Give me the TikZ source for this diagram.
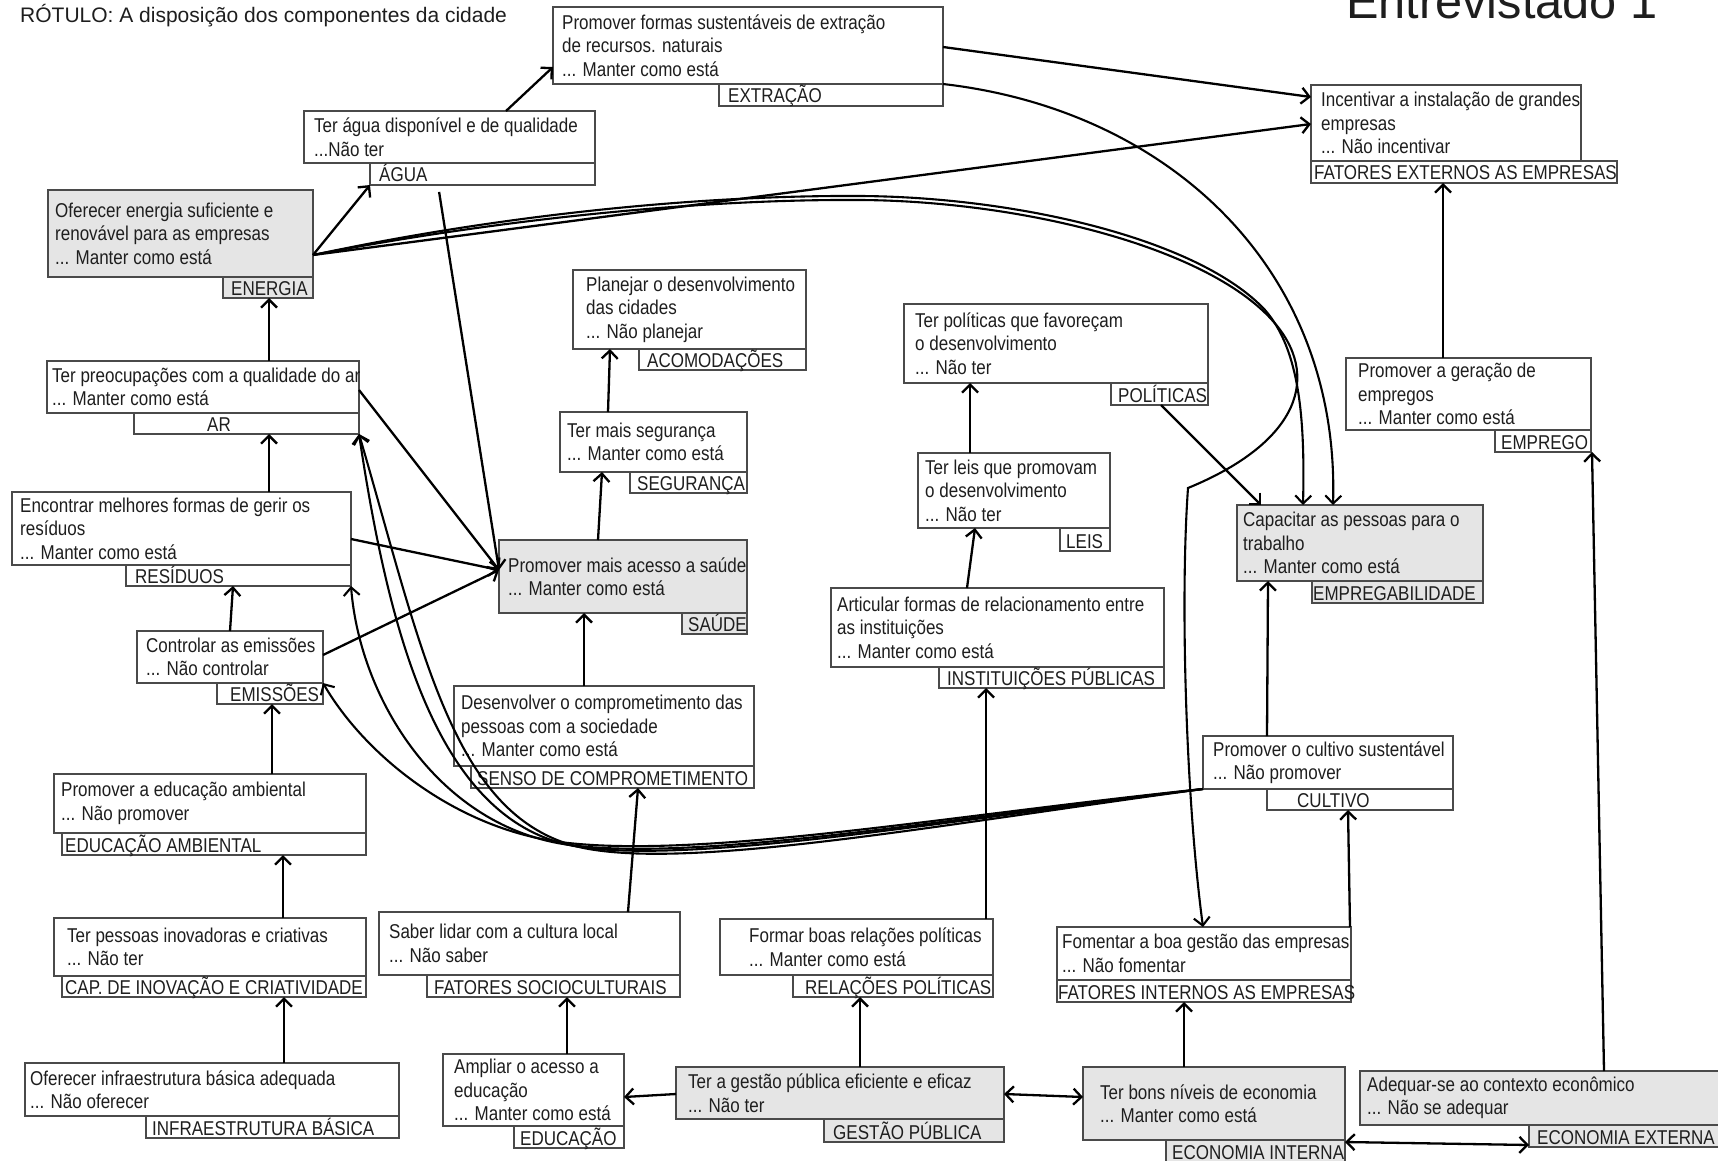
\documentclass[tikz,border=0pt]{standalone}
\usepackage{fontspec}
\setmainfont{Liberation Sans}
\newfontfamily\condf[FakeStretch=0.85]{Liberation Sans}
\usetikzlibrary{arrows.meta}
\definecolor{boxline}{HTML}{4A4A4A}
\definecolor{boxgray}{HTML}{E5E5E5}
\definecolor{ink}{HTML}{1E1E1E}

% box with its statement text, vertically centred
\newcommand\mkbox[8]{%
  \node[#1, minimum width={#5-#3}, minimum height={#6-#4}] (#2) at (#3,#4) {};
  \node[txt] (#2-t) at ([xshift=#7pt]#2.west) {#8};}
% small tab with the construct name, text sitting near its bottom edge
\newcommand\mktab[8]{%
  \node[#1, minimum width={#5-#3}, minimum height={#6-#4}] (#2) at (#3,#4) {};
  \node[ttxt] (#2-t) at ([xshift=#7pt,yshift=3pt]#2.south west) {#8};}

\begin{document}
\begin{tikzpicture}[x=1pt,y=-1pt,
  wbox/.style={draw=boxline, line width=1.3pt, fill=white, inner sep=0pt, outer sep=0pt, anchor=north west},
  gbox/.style={wbox, fill=boxgray},
  txt/.style={anchor=west, align=left, inner sep=0pt, text=ink, font=\condf\fontsize{20}{23.5}\selectfont},
  ttxt/.style={anchor=base west, inner sep=0pt, text=ink, font=\condf\fontsize{20}{22}\selectfont},
  barb/.tip={Straight Barb[length=8pt,width=16pt]},
  arr/.style={draw=black, line width=2.3pt, -barb},
  link/.style={draw=black, line width=2.1pt, -barb},
  biarr/.style={draw=black, line width=2.3pt, barb-barb},
]
\fill[white] (0,0) rectangle (1718,1161);
\useasboundingbox (0,0) rectangle (1718,1161);

% headings
\node[anchor=base west, inner sep=0pt, text=ink, font=\fontsize{21}{25}\selectfont] (title) at (20,23) {RÓTULO: A disposição dos componentes da cidade};
\node[anchor=base west, inner sep=0pt, text=ink, font=\fontsize{48.7}{58}\selectfont] (entrev) at (1346,19) {Entrevistado 1};

% ---- boxes ----
\mkbox{wbox}{ext}{553}{7}{943}{84}{9}{Promover formas sustentáveis de extração\\de recursos. naturais\\... Manter como está}
\mktab{wbox}{extt}{719}{84}{943}{106}{9}{EXTRAÇÃO}
\mkbox{wbox}{agu}{304}{111}{595}{163}{10}{Ter água disponível e de qualidade\\...Não ter}
\mktab{wbox}{agut}{370}{163}{595}{185}{9}{ÁGUA}
\mkbox{gbox}{ener}{48}{190}{313}{277}{7}{Oferecer energia suficiente e\\renovável para as empresas\\... Manter como está}
\mktab{gbox}{enert}{223}{277}{313}{298}{8}{ENERGIA}
\mkbox{wbox}{inc}{1311}{85}{1581}{161}{10}{Incentivar a instalação de grandes\\empresas\\... Não incentivar}
\mktab{wbox}{inct}{1311}{161}{1617}{183}{3}{FATORES EXTERNOS AS EMPRESAS}

\mkbox{wbox}{ar}{47}{361}{359}{413}{5}{Ter preocupações com a qualidade do ar\\... Manter como está}
\mktab{wbox}{art}{134}{413}{359}{434}{73}{AR}
\mkbox{wbox}{res}{12}{492}{351}{565}{8}{Encontrar melhores formas de gerir os\\resíduos\\... Manter como está}
\mktab{wbox}{rest}{126}{565}{351}{586}{9}{RESÍDUOS}
\mkbox{wbox}{emi}{137}{631}{323}{683}{9}{Controlar as emissões\\... Não controlar}
\mktab{wbox}{emit}{217}{683}{323}{704}{13}{EMISSÕES}

\mkbox{wbox}{aco}{573}{270}{806}{349}{13}{Planejar o desenvolvimento\\das cidades\\... Não planejar}
\mktab{wbox}{acot}{639}{349}{806}{370}{8}{ACOMODAÇÕES}
\mkbox{wbox}{seg}{560}{412}{747}{472}{7}{Ter mais segurança\\... Manter como está}
\mktab{wbox}{segt}{630}{472}{747}{493}{7}{SEGURANÇA}
\mkbox{gbox}{sau}{499}{540}{747}{613}{9}{Promover mais acesso a saúde\\... Manter como está}
\mktab{gbox}{saut}{682}{613}{747}{634}{6}{SAÚDE}
\mkbox{wbox}{sen}{454}{686}{754}{766}{7}{Desenvolver o comprometimento das\\pessoas com a sociedade\\... Manter como está}
\mktab{wbox}{sent}{471}{766}{754}{788}{6}{SENSO DE COMPROMETIMENTO}

\mkbox{wbox}{pol}{904}{304}{1208}{383}{11}{Ter políticas que favoreçam\\o desenvolvimento\\... Não ter}
\mktab{wbox}{polt}{1111}{383}{1208}{405}{7}{POLÍTICAS}
\mkbox{wbox}{lei}{918}{453}{1110}{528}{7}{Ter leis que promovam\\o desenvolvimento\\... Não ter}
\mktab{wbox}{leit}{1060}{528}{1110}{551}{6}{LEIS}
\mkbox{wbox}{ins}{831}{588}{1164}{667}{6}{Articular formas de relacionamento entre\\as instituições\\... Manter como está}
\mktab{wbox}{inst}{939}{667}{1164}{688}{8}{INSTITUIÇÕES PÚBLICAS}

\mkbox{wbox}{empo}{1346}{358}{1591}{430}{12}{Promover a geração de\\empregos\\... Manter como está}
\mktab{wbox}{empot}{1495}{430}{1591}{452}{6}{EMPREGO}
\mkbox{gbox}{emp}{1237}{505}{1483}{581}{6}{Capacitar as pessoas para o\\trabalho\\... Manter como está}
\mktab{gbox}{empt}{1312}{581}{1483}{603}{1}{EMPREGABILIDADE}
\mkbox{wbox}{cul}{1203}{736}{1453}{789}{10}{Promover o cultivo sustentável\\... Não promover}
\mktab{wbox}{cult}{1267}{789}{1453}{810}{30}{CULTIVO}

\mkbox{wbox}{eda}{54}{774}{366}{833}{7}{Promover a educação ambiental\\... Não promover}
\mktab{wbox}{edat}{62}{833}{366}{855}{3}{EDUCAÇÃO AMBIENTAL}
\mkbox{wbox}{cap}{54}{918}{366}{976}{13}{Ter pessoas inovadoras e criativas\\... Não ter}
\mktab{wbox}{capt}{62}{976}{366}{997}{3}{CAP. DE INOVAÇÃO E CRIATIVIDADE}
\mkbox{wbox}{inf}{25}{1063}{399}{1116}{5}{Oferecer infraestrutura básica adequada\\... Não oferecer}
\mktab{wbox}{inft}{146}{1116}{399}{1138}{6}{INFRAESTRUTURA BÁSICA}
\mkbox{wbox}{soc}{379}{912}{680}{975}{10}{Saber lidar com a cultura local\\... Não saber}
\mktab{wbox}{soct}{427}{975}{680}{997}{7}{FATORES SOCIOCULTURAIS}
\mkbox{wbox}{edu}{443}{1054}{624}{1126}{11}{Ampliar o acesso a\\educação\\... Manter como está}
\mktab{wbox}{edut}{514}{1126}{624}{1148}{6}{EDUCAÇÃO}
\mkbox{wbox}{rel}{720}{919}{993}{975}{29}{Formar boas relações políticas\\... Manter como está}
\mktab{wbox}{relt}{793}{975}{993}{997}{12}{RELAÇÕES POLÍTICAS}
\mkbox{gbox}{ges}{676}{1067}{1004}{1119}{12}{Ter a gestão pública eficiente e eficaz\\... Não ter}
\mktab{gbox}{gest}{824}{1119}{1004}{1142}{9}{GESTÃO PÚBLICA}
\mkbox{wbox}{fom}{1057}{927}{1351}{980}{5}{Fomentar a boa gestão das empresas\\... Não fomentar}
\mktab{wbox}{fomt}{1057}{980}{1351}{1002}{1}{FATORES INTERNOS AS EMPRESAS}
\mkbox{gbox}{ein}{1083}{1067}{1345}{1140}{17}{Ter bons níveis de economia\\... Manter como está}
\mktab{gbox}{eint}{1166}{1140}{1345}{1162}{6}{ECONOMIA INTERNA}
\mkbox{gbox}{ade}{1360}{1071}{1722}{1125}{7}{Adequar-se ao contexto econômico\\... Não se adequar}
\mktab{gbox}{adet}{1529}{1125}{1722}{1147}{8}{ECONOMIA EXTERNA}

% ---- connectors: left column ----
\draw[arr] (269,0 |- ar.north) -- (269,0 |- enert.south);
\draw[arr] (269,0 |- res.north) -- (269,0 |- art.south);
\draw[arr] (230,0 |- emi.north) -- (233,0 |- rest.south);
\draw[arr] (272,0 |- eda.north) -- (272,0 |- emit.south);
\draw[arr] (283,0 |- cap.north) -- (283,0 |- edat.south);
\draw[arr] (284,0 |- inf.north) -- (284,0 |- capt.south);

% into health
\draw[arr, shorten <=7pt] (438,0 |- agut.south) -- (sau.west |- 0,570);
\draw[arr] (ar.east |- 0,390) -- (sau.west |- 0,570);
\draw[arr] (res.east |- 0,539) -- (sau.west |- 0,570);
\draw[arr] (emi.east |- 0,655) -- (sau.west |- 0,570);

% middle column
\draw[arr] (584,0 |- sen.north) -- (584,0 |- sau.south);
\draw[arr] (598,0 |- sau.north) -- (602,0 |- seg.south);
\draw[arr] (608,0 |- seg.north) -- (610,0 |- aco.south);
\draw[arr] (628,0 |- soc.north) -- (638,0 |- sent.south);
\draw[arr] (567,0 |- edu.north) -- (567,0 |- soct.south);
\draw[arr] (ges.west |- 0,1094) -- (edu.east |- 0,1097);
\draw[arr] (860,0 |- ges.north) -- (860,0 |- relt.south);
\draw[biarr] (ges.east |- 0,1094) -- (ein.west |- 0,1097);
\draw[arr] (986,0 |- rel.north) -- (986,0 |- inst.south);
\draw[arr] (967,0 |- ins.north) -- (975,0 |- lei.south);
\draw[arr] (970,0 |- lei.north) -- (970,0 |- pol.south);
\draw[arr] (1161,0 |- polt.south) -- (1261,0 |- emp.north);

% right side
\draw[arr] (1267,0 |- cul.north) -- (1268,0 |- emp.south);
\draw[arr] (1350,0 |- fom.north) -- (1348,0 |- cult.south);
\draw[arr] (1184,0 |- ein.north) -- (1184,0 |- fomt.south);
\draw[biarr] (eint.east |- 0,1142) -- (adet.west |- 0,1145);
\draw[arr] (1604,0 |- ade.north) -- (1592,0 |- empot.south);
\draw[arr] (1443,0 |- empo.north) -- (1443,0 |- inct.south);

% top
\draw[arr] (506,0 |- agu.north) -- (ext.west |- 0,67);
\draw[arr] (ener.east |- 0,255) -- (agut.south west);
\draw[arr] (ext.east |- 0,47) -- (inc.west |- 0,97);
\draw[arr] (ener.east |- 0,255) -- (inc.west |- 0,124);
\draw[link] (ext.south east) .. controls (1170,110) and (1340,270) .. (1333,0 |- emp.north);
\draw[link] (ener.east |- 0,255) .. controls (500,215) and (700,195) .. (860,196)
  .. controls (1020,197) and (1200,240) .. (1265,310)
  .. controls (1300,350) and (1305,420) .. (1303,0 |- emp.north);
\draw[link] (ener.east |- 0,255) .. controls (500,219) and (700,199) .. (860,200)
  .. controls (1020,201) and (1205,246) .. (1272,320)
  .. controls (1322,375) and (1300,442) .. (1188,488)
  .. controls (1180,600) and (1186,800) .. (1203,0 |- fom.north);

% bundle from cultivation back to the environmental boxes
\draw[link] (cul.south west) .. controls (950,815) and (700,860) .. (560,842)
  .. controls (455,828) and (365,755) .. (emi.south east);
\draw[link] (cul.south west) .. controls (950,818) and (700,862) .. (570,845)
  .. controls (440,828) and (360,700) .. (rest.south east);
\draw[link] (cul.south west) .. controls (950,820) and (700,864) .. (580,847)
  .. controls (440,826) and (390,640) .. (art.south east);
\draw[link] (cul.south west) .. controls (950,823) and (710,867) .. (595,850)
  .. controls (455,830) and (425,660) .. (art.south east);
\end{tikzpicture}
\end{document}
